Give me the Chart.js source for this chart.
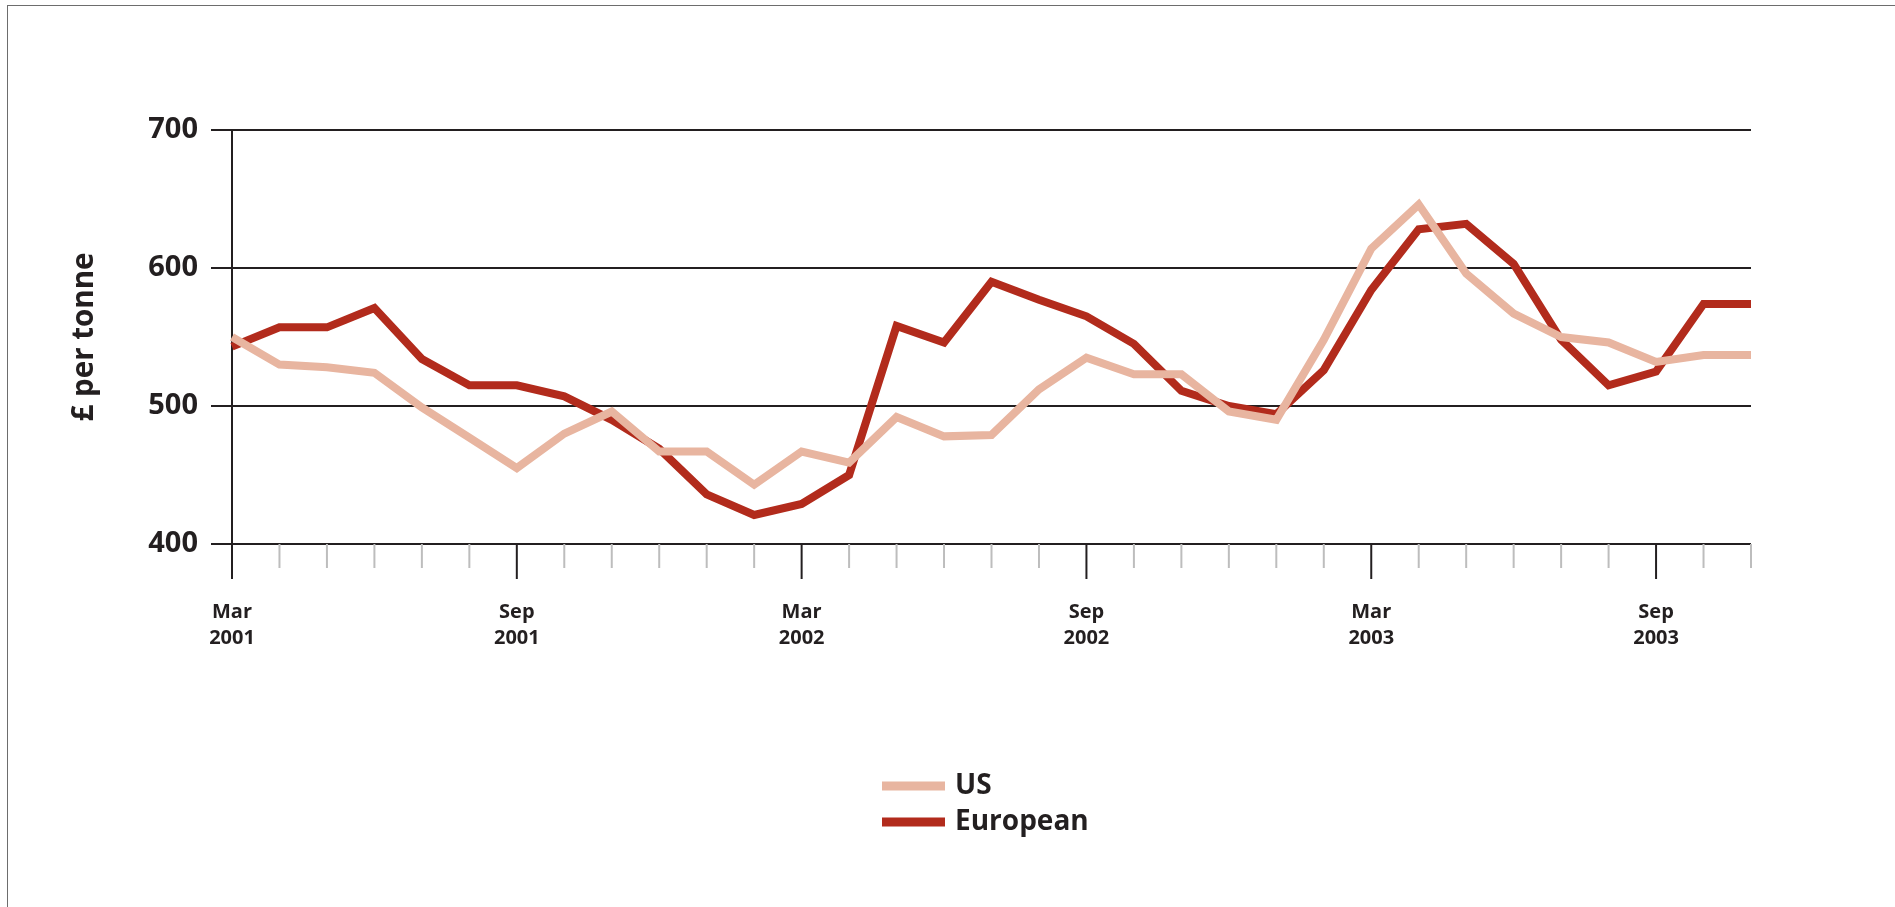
<!DOCTYPE html>
<html>
<head>
<meta charset="utf-8">
<script src="https://cdn.jsdelivr.net/npm/chart.js@4.4.1/dist/chart.umd.min.js"></script>
<style>
  body { margin: 0; background: #fff; }
  #wrap { position: relative; width: 1895px; height: 907px; }
  #frame { position: absolute; left: 7px; top: 5px; right: 0; bottom: 0; border-left: 1px solid #6d6d6d; border-top: 1px solid #6d6d6d; pointer-events: none; }
  canvas { position: absolute; left: 0; top: 0; }
</style>
</head>
<body>
<div id="wrap">
  <canvas id="chart" width="1895" height="907"></canvas>
  <div id="frame"></div>
</div>
<script>
// monthly prices, Mar 2001 .. Nov 2003
const months = ["Mar","Apr","May","Jun","Jul","Aug","Sep","Oct","Nov","Dec","Jan","Feb",
                "Mar","Apr","May","Jun","Jul","Aug","Sep","Oct","Nov","Dec","Jan","Feb",
                "Mar","Apr","May","Jun","Jul","Aug","Sep","Oct","Nov"];
const years = ["2001","2001","2001","2001","2001","2001","2001","2001","2001","2001","2002","2002",
               "2002","2002","2002","2002","2002","2002","2002","2002","2002","2002","2003","2003",
               "2003","2003","2003","2003","2003","2003","2003","2003","2003"];
const usPrices = [550, 530, 528, 524, 499, 477, 455, 480, 496, 467, 467, 443,
                  467, 459, 492, 478, 479, 512, 535, 523, 523, 496, 490, 548,
                  614, 646, 596, 567, 550, 546, 532, 537, 537];
const europeanPrices = [543, 557, 557, 571, 534, 515, 515, 507, 490, 469, 436, 421,
                        429, 450, 558, 546, 590, 577, 565, 545, 511, 500, 494, 526,
                        584, 628, 632, 603, 548, 515, 525, 574, 574];
const yTicks = [400, 500, 600, 700];
const labeledMonths = ["Mar", "Sep"];

const ink = "#231f20";
const font = "'Open Sans', 'Noto Sans', sans-serif";

// month ticks under the x axis: long black at Mar/Sep, short grey otherwise
const monthTicks = {
  id: "monthTicks",
  afterDraw(chart) {
    const ctx = chart.ctx;
    const x = chart.scales.x;
    const bottom = chart.chartArea.bottom;
    ctx.save();
    ctx.lineWidth = 2;
    months.forEach((m, i) => {
      const px = x.getPixelForValue(i);
      const major = labeledMonths.includes(m);
      ctx.strokeStyle = major ? ink : "#bdbdbd";
      ctx.beginPath();
      ctx.moveTo(px, bottom);
      ctx.lineTo(px, bottom + (major ? 35 : 24));
      ctx.stroke();
    });
    ctx.restore();
  }
};

// stacked legend below the plot
const stackedLegend = {
  id: "stackedLegend",
  afterDraw(chart) {
    const ctx = chart.ctx;
    ctx.save();
    chart.data.datasets.forEach((ds, i) => {
      const y = 786 + i * 36;
      ctx.strokeStyle = ds.borderColor;
      ctx.lineWidth = 9;
      ctx.beginPath();
      ctx.moveTo(882, y);
      ctx.lineTo(945, y);
      ctx.stroke();
      ctx.fillStyle = ink;
      ctx.font = "bold 28px " + font;
      ctx.textBaseline = "middle";
      ctx.fillText(ds.label, 955, y);
    });
    ctx.restore();
  }
};

new Chart(document.getElementById("chart"), {
  type: "line",
  data: {
    labels: months.map((m, i) => m + " " + years[i]),
    datasets: [
      {
        label: "US",
        data: usPrices,
        borderColor: "#e8b5a0",
        borderWidth: 8,
        pointRadius: 0,
        tension: 0,
        borderJoinStyle: "miter"
      },
      {
        label: "European",
        data: europeanPrices,
        borderColor: "#b22b1c",
        borderWidth: 8,
        pointRadius: 0,
        tension: 0,
        borderJoinStyle: "miter"
      }
    ]
  },
  options: {
    responsive: false,
    animation: false,
    layout: { padding: { top: 130, right: 144, left: 0, bottom: 0 } },
    plugins: {
      legend: { display: false },
      tooltip: { enabled: false }
    },
    scales: {
      x: {
        offset: false,
        grid: { display: false, drawTicks: false, tickLength: 0 },
        border: { display: false },
        afterFit: (s) => { s.height = 907 - 544; },
        ticks: {
          autoSkip: false,
          maxRotation: 0,
          padding: 55,
          color: ink,
          font: { family: font, size: 20, weight: "bold", lineHeight: 1.3 },
          callback: (v, i) => labeledMonths.includes(months[i]) ? [months[i], years[i]] : ""
        }
      },
      y: {
        min: 400,
        max: 700,
        afterFit: (s) => { s.width = 232; },
        afterBuildTicks: (s) => { s.ticks = yTicks.map((v) => ({ value: v })); },
        grid: { color: ink, lineWidth: 2, tickLength: 21, tickColor: ink },
        border: { display: true, color: ink, width: 2 },
        ticks: {
          padding: 13,
          color: ink,
          font: { family: font, size: 29, weight: "bold" }
        },
        title: {
          display: true,
          text: "£ per tonne",
          color: ink,
          padding: { top: 67, bottom: 0 },
          font: { family: font, size: 29.5, weight: "bold" }
        }
      }
    }
  },
  plugins: [monthTicks, stackedLegend]
});
</script>
</body>
</html>
